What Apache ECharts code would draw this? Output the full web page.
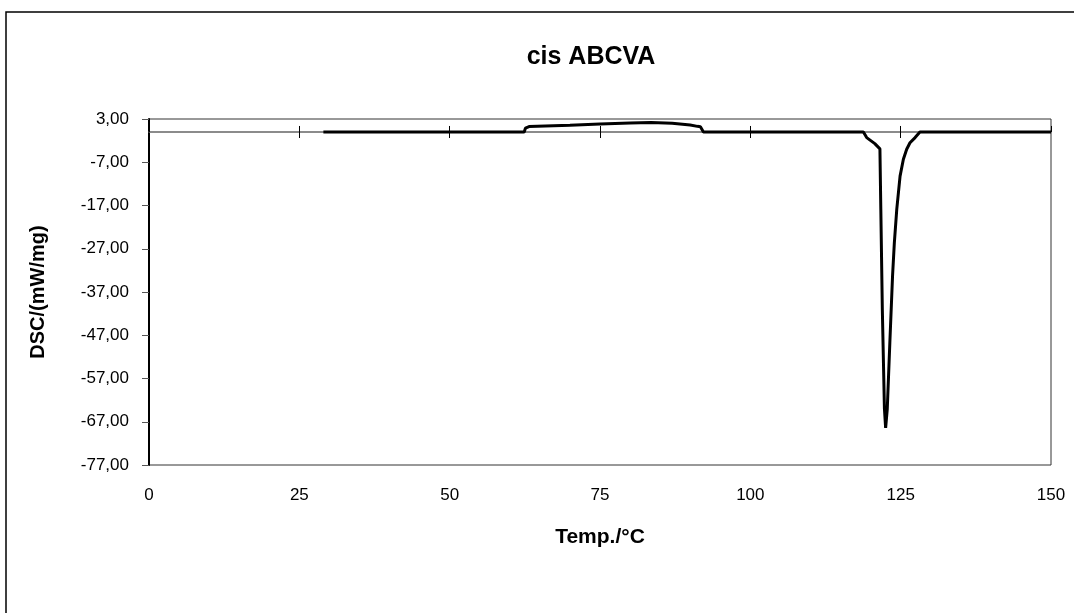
<!DOCTYPE html>
<html>
<head>
<meta charset="utf-8">
<script src="https://cdn.jsdelivr.net/npm/echarts@6/dist/echarts.min.js"></script>
<style>
html,body{margin:0;padding:0;background:#fff;}
#c{width:1074px;height:613px;}
</style>
</head>
<body>
<div id="c"></div>
<script>
// Temperature (°C)
const temps = [29, 40, 50, 62.4, 62.6, 63.2, 70, 75, 80, 83.5, 87, 90, 91.2, 91.7, 92.2, 100, 110, 118.8, 119.35, 120.7, 121.55, 121.7, 121.95, 122.3, 122.5, 122.77, 123.2, 123.65, 123.95, 124.35, 124.9, 125.45, 126.0, 126.55, 127.4, 128.2, 135, 140, 150];
// DSC signal (mW/mg)
const dsc = [0, 0, 0, 0, 0.9, 1.25, 1.55, 1.85, 2.1, 2.2, 2.0, 1.6, 1.3, 1.2, 0, 0, 0, 0, -1.3, -2.7, -3.9, -17.9, -41, -64, -68.4, -64.1, -48.7, -33.3, -25.6, -17.9, -10.2, -6.3, -4.0, -2.5, -1.3, 0, 0, 0, 0];
const xTicks = [0, 25, 50, 75, 100, 125, 150];
const yMin = -77, yMax = 3, yStep = 10;

const fmt = v => v.toFixed(2).replace('.', ',');
const font = '"Liberation Sans", Arial, sans-serif';
const tickHalf = 1.4; // lower half of the crossing tick marks, in y units

const chart = echarts.init(document.getElementById('c'), null, {renderer: 'canvas'});
chart.setOption({
  animation: false,
  backgroundColor: '#fff',
  title: {
    text: 'cis ABCVA',
    left: 586, top: 40, textAlign: 'center',
    textStyle: {fontFamily: font, fontSize: 25, fontWeight: 'bold', color: '#000'}
  },
  graphic: [{
    type: 'rect', silent: true,
    shape: {x: 6, y: 12, width: 1200, height: 800},
    style: {fill: 'none', stroke: '#000', lineWidth: 1.5}
  }],
  grid: {left: 149, top: 119, width: 902, height: 346, show: true, borderColor: '#333', borderWidth: 1, backgroundColor: 'transparent', containLabel: false, outerBoundsMode: 'none'},
  xAxis: [{
    type: 'value', min: xTicks[0], max: xTicks[xTicks.length - 1], interval: 25,
    position: 'bottom',
    name: 'Temp./°C', nameLocation: 'middle', nameGap: 62,
    nameTextStyle: {fontFamily: font, fontSize: 21, fontWeight: 'bold', color: '#000'},
    axisLine: {show: false, onZero: false},
    axisTick: {show: false},
    axisLabel: {fontFamily: font, fontSize: 17, color: '#000', margin: 22, hideOverlap: false},
    splitLine: {show: false}
  }, {
    type: 'value', min: xTicks[0], max: xTicks[xTicks.length - 1], interval: 25,
    position: 'top',
    axisLine: {show: true, onZero: true, lineStyle: {color: '#666', width: 1.5}},
    axisTick: {show: true, inside: false, length: 6, lineStyle: {color: '#000', width: 1}},
    axisLabel: {show: false},
    splitLine: {show: false}
  }],
  yAxis: {
    type: 'value', min: yMin, max: yMax, interval: yStep,
    name: 'DSC/(mW/mg)', nameLocation: 'middle', nameGap: 101, nameRotate: 90,
    nameTextStyle: {fontFamily: font, fontSize: 20, fontWeight: 'bold', color: '#000'},
    axisLine: {show: true, onZero: false, lineStyle: {color: '#000', width: 2}},
    axisTick: {show: true, inside: false, length: 7, lineStyle: {color: '#555', width: 1}},
    axisLabel: {fontFamily: font, fontSize: 17, color: '#000', margin: 20, formatter: fmt, hideOverlap: false},
    splitLine: {show: false}
  },
  series: [{
    type: 'line', xAxisIndex: 0,
    data: temps.map((t, i) => [t, dsc[i]]),
    showSymbol: false, symbol: 'none',
    lineStyle: {color: '#000', width: 3},
    z: 5,
    markLine: {
      silent: true, symbol: 'none', label: {show: false}, animation: false,
      lineStyle: {color: '#000', width: 1, type: 'solid'},
      data: xTicks.slice(1, -1).map(t => [{coord: [t, 0]}, {coord: [t, -tickHalf]}])
    }
  }]
});
</script>
</body>
</html>
